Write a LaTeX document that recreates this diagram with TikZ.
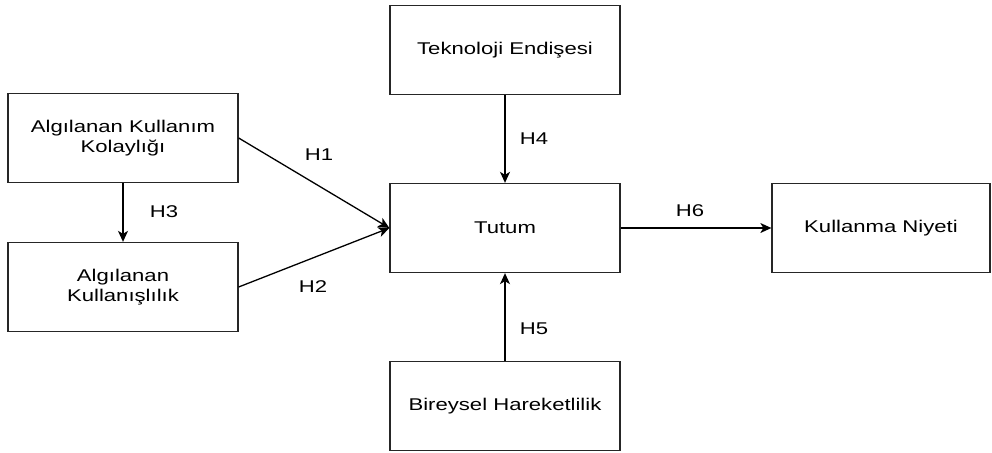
\documentclass[tikz,border=0pt]{standalone}
\usepackage{fontspec}
\setmainfont{Liberation Sans}
\newfontfamily\diafont[FakeStretch=1.3]{Liberation Sans}
\usetikzlibrary{arrows.meta}

\begin{document}
\begin{tikzpicture}[x=1pt,y=-1pt]
\tikzset{
  box/.style={draw=black!85, line width=1.3pt, minimum width=230pt, minimum height=89pt,
    inner sep=0pt, align=center, font=\diafont\fontsize{17}{20}\selectfont},
  link/.style={line width=1.3pt, -{Stealth[length=11pt,width=10pt,inset=3pt]}},
  hyp/.style={font=\diafont\fontsize{17}{20}\selectfont, inner sep=0pt}
}
\useasboundingbox (0,0) rectangle (992,452);
% boxes
\node [box] (tek) at (505,50) {Teknoloji Endişesi};
\node [box] (kol) at (123,138) {Algılanan Kullanım\\Kolaylığı};
\node [box] (tut) at (505,228) {Tutum};
\node [box, minimum width=218pt] (niy) at (881,228) {Kullanma Niyeti};
\node [box] (kul) at (123,287) {Algılanan\\Kullanışlılık};
\node [box] (bir) at (505,406) {Bireysel Hareketlilik};
% connectors
\draw [link] (kol.east) -- (tut.west);
\draw [link] (kul.east) -- (tut.west);
\draw [link] (kol.south) -- (kul.north);
\draw [link] (tek.south) -- (tut.north);
\draw [link] (bir.north) -- (tut.south);
\draw [link] (tut.east) -- (niy.west);
% labels
\node [hyp] (h1) at (319,155) {H1};
\node [hyp] (h2) at (313,287) {H2};
\node [hyp] (h3) at (164,212) {H3};
\node [hyp] (h4) at (534,139) {H4};
\node [hyp] (h5) at (534,329) {H5};
\node [hyp] (h6) at (690,211) {H6};
\end{tikzpicture}
\end{document}
